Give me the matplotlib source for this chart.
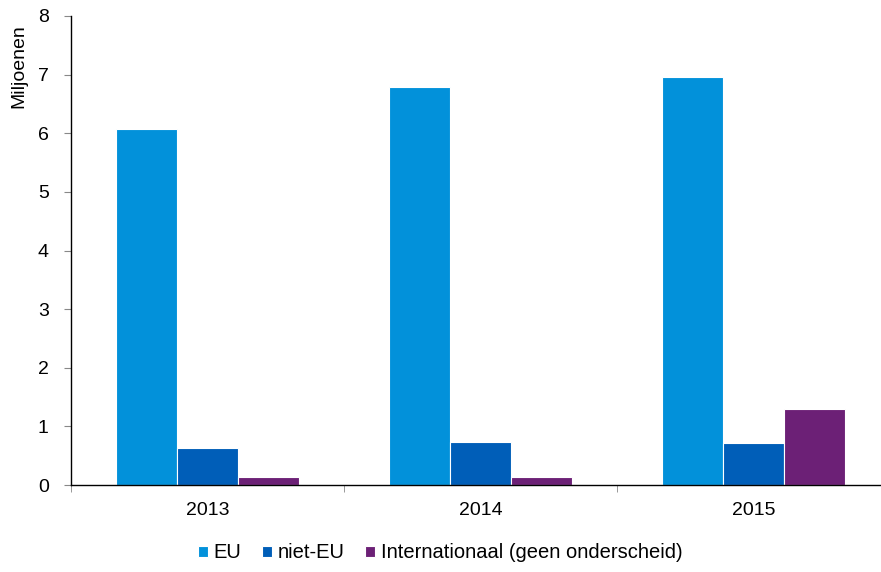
import matplotlib.pyplot as plt
import numpy as np

plt.rcParams['font.family'] = ['Liberation Sans', 'DejaVu Sans']

# data
years = ['2013', '2014', '2015']
eu = [6.07, 6.79, 6.96]
niet_eu = [0.63, 0.73, 0.71]
internationaal = [0.13, 0.13, 1.29]
series_names = ['EU', 'niet-EU', 'Internationaal (geen onderscheid)']
colors = ['#0291DA', '#005EB8', '#6C2076']

fig = plt.figure(figsize=(8.81, 5.72), dpi=100)
ax = fig.add_axes([71 / 881, 87 / 572, 819 / 881, 469 / 572])

x = np.arange(len(years))
w = 0.223
for i, (vals, name, c) in enumerate(zip([eu, niet_eu, internationaal], series_names, colors)):
    ax.bar(x + (i - 1) * w, vals, width=w, color=c, edgecolor='white',
           linewidth=0.8, label=name, zorder=2)

ax.set_xlim(-0.5, 2.5)
ax.set_ylim(0, 8)
ax.set_yticks(range(0, 9))
ax.set_xticks(x)
ax.set_xticklabels(years)
ax.set_xticks([-0.5, 0.5, 1.5, 2.5], minor=True)
ax.tick_params(axis='x', which='major', length=0, pad=12, labelsize=14)
ax.tick_params(axis='x', which='minor', length=5, color='#888888', direction='out')
ax.tick_params(axis='y', length=5, color='#888888', labelsize=14, pad=11)

for s in ['top', 'right']:
    ax.spines[s].set_visible(False)
ax.spines['left'].set_linewidth(1.0)
ax.spines['bottom'].set_linewidth(1.0)

fig.text(10 / 881, 1 - 24 / 572, 'Miljoenen', rotation=90, va='top', ha='left', fontsize=14)

fig.legend(loc='center', bbox_to_anchor=(440 / 881, 1 - 553 / 572), ncol=3, frameon=False,
           fontsize=14.5, handlelength=0.5, handleheight=0.5, handletextpad=0.3,
           columnspacing=1.0)

fig.savefig('out.png', dpi=100)
